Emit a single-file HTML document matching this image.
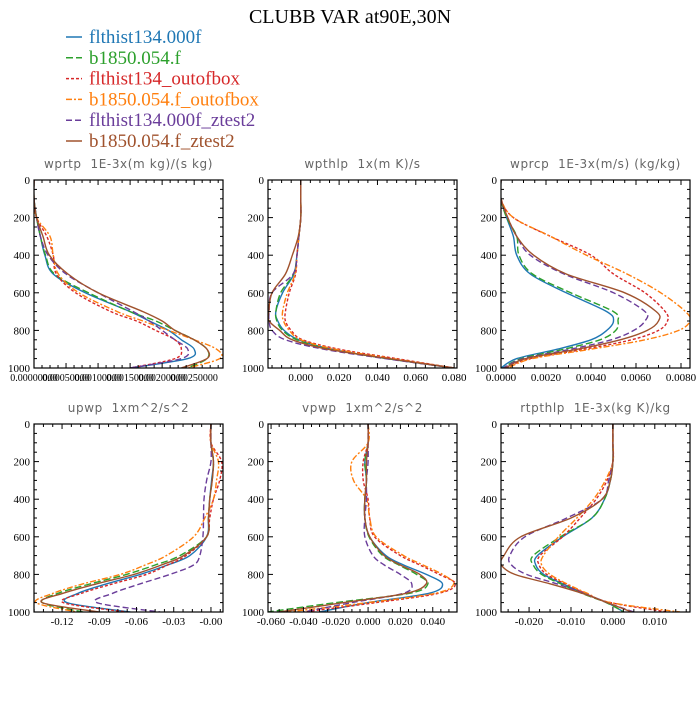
<!DOCTYPE html>
<html><head><meta charset="utf-8">
<style>
body{margin:0;background:#fff;width:700px;height:700px;overflow:hidden}
svg text{font-family:"Liberation Serif",serif}
</style></head>
<body>
<svg id="chart" width="700" height="700" xmlns="http://www.w3.org/2000/svg">
<text x="350" y="23" text-anchor="middle" font-size="20" fill="#000">CLUBB VAR at90E,30N</text>
<g id="legend"></g>
<g id="panels"></g>
</svg>
<script>
const seriesNames=["flthist134.000f","b1850.054.f","flthist134_outofbox","b1850.054.f_outofbox","flthist134.000f_ztest2","b1850.054.f_ztest2"];
const seriesColors=["#1f77b4","#2ca02c","#d62728","#ff7f0e","#6a3d9a","#a0522d"];
const seriesDash=["","7,3","3,2","6,2,2,2","6,3",""];
const levels=[0,100,200,300,400,500,600,700,750,800,850,900,950,1000];

// wprtp
const wprtpBlue=[0,0,0.00004,0.0001,0.00017,0.0003,0.0008,0.0015,0.0018,0.0021,0.0023,0.0025,0.0024,0.0015];
const wprtpGreen=[0,0,0.00004,0.0001,0.00018,0.00032,0.00085,0.0015,0.0019,0.0022,0.0025,0.0027,0.0027,0.0024];
const wprtpRed=[0,0,0.00004,0.0002,0.0003,0.00035,0.00065,0.0012,0.0016,0.0019,0.0022,0.0023,0.0022,0.0015];
const wprtpOrange=[0,0,0.00004,0.00025,0.0003,0.00038,0.0007,0.0013,0.0017,0.0021,0.0025,0.00285,0.0029,0.0024];
const wprtpPurple=[0,0,0.00004,0.0001,0.00022,0.0005,0.001,0.00155,0.0018,0.002,0.0022,0.0024,0.0023,0.0015];
const wprtpBrown=[0,0,0.00004,0.00014,0.00024,0.00053,0.001,0.0017,0.002,0.0022,0.0025,0.0027,0.0027,0.0023];
// wpthlp
const wpthlpBlue=[0,0,0,-0.001,-0.002,-0.0036,-0.0095,-0.013,-0.012,-0.0087,-0.001,0.016,0.045,0.080];
const wpthlpGreen=[0,0,0,-0.001,-0.002,-0.0038,-0.0105,-0.013,-0.0125,-0.0095,-0.002,0.015,0.045,0.080];
const wpthlpRed=[0,0,0,-0.001,-0.002,-0.0027,-0.006,-0.008,-0.008,-0.005,0.001,0.02,0.05,0.080];
const wpthlpOrange=[0,0,0,-0.001,-0.002,-0.003,-0.007,-0.0095,-0.009,-0.006,0,0.018,0.048,0.080];
const wpthlpPurple=[0,0,0,-0.001,-0.002,-0.004,-0.015,-0.0165,-0.0165,-0.015,-0.008,0.012,0.044,0.080];
const wpthlpBrown=[0,0,0,-0.0013,-0.0044,-0.008,-0.015,-0.0167,-0.0165,-0.011,-0.0044,0.014,0.046,0.080];
// wprcp
const wprcpBlue=[0,0,0.00025,0.00055,0.0007,0.0013,0.0029,0.0047,0.005,0.0047,0.004,0.0025,0.0007,0];
const wprcpGreen=[0,0,0.00025,0.0007,0.0008,0.0014,0.0031,0.005,0.0052,0.0051,0.0044,0.0028,0.0009,0.0001];
const wprcpRed=[0,0,0.00055,0.0022,0.004,0.005,0.0064,0.0073,0.0074,0.007,0.0058,0.0037,0.0013,0.0002];
const wprcpOrange=[0,0,0.00055,0.0022,0.0038,0.0056,0.0071,0.0082,0.0084,0.0079,0.0064,0.004,0.0014,0.0003];
const wprcpPurple=[0,0,0.0003,0.0007,0.0013,0.0028,0.005,0.0064,0.0064,0.0059,0.0049,0.0031,0.001,0.0001];
const wprcpBrown=[0,0,0.0003,0.0007,0.00145,0.0029,0.0055,0.0069,0.007,0.0065,0.0053,0.0034,0.0011,0.0002];
// upwp
const upwpBlue=[0,0,0.002,0.0005,-0.001,-0.002,-0.0035,-0.017,-0.035,-0.057,-0.084,-0.107,-0.116,-0.065];
const upwpGreen=[0,0,0.002,0.001,-0.001,-0.002,-0.0035,-0.025,-0.045,-0.068,-0.097,-0.123,-0.136,-0.103];
const upwpRed=[0,0,0.0086,0.007,0.002,-0.001,-0.0035,-0.02,-0.035,-0.052,-0.079,-0.104,-0.119,-0.068];
const upwpOrange=[0,0,0.006,0.0045,0.002,-0.005,-0.014,-0.036,-0.053,-0.073,-0.103,-0.127,-0.141,-0.108];
const upwpPurple=[0,0,0,-0.0035,-0.0056,-0.006,-0.0065,-0.009,-0.014,-0.033,-0.057,-0.079,-0.092,-0.041];
const upwpBrown=[0,0,0.002,0.001,-0.001,-0.002,-0.0035,-0.022,-0.04,-0.062,-0.092,-0.119,-0.136,-0.09];
// vpwp
const vpwpBlue=[0,0,-0.002,-0.001,-0.002,-0.002,0.001,0.011,0.022,0.036,0.046,0.038,0,-0.03];
const vpwpGreen=[0,0,-0.002,-0.001,-0.002,-0.002,0.0006,0.009,0.019,0.03,0.037,0.026,-0.02,-0.062];
const vpwpRed=[0,0,-0.003,-0.003,0,0.001,0.004,0.02,0.032,0.044,0.054,0.044,0.005,-0.04];
const vpwpOrange=[0,0,-0.01,-0.009,-0.001,0.001,0.005,0.022,0.034,0.046,0.053,0.042,0,-0.05];
const vpwpPurple=[0,0,0,-0.001,-0.001,-0.002,-0.002,0.003,0.01,0.02,0.027,0.022,-0.01,-0.04];
const vpwpBrown=[0,0,-0.001,-0.001,-0.002,-0.002,0.001,0.01,0.02,0.032,0.036,0.024,-0.015,-0.055];
// rtpthlp
const rtpBlue=[0,0,0,-0.0006,-0.002,-0.005,-0.012,-0.018,-0.0184,-0.0165,-0.012,-0.007,-0.0014,0.0026];
const rtpGreen=[0,0,0,-0.0006,-0.002,-0.005,-0.0125,-0.019,-0.019,-0.017,-0.0125,-0.0075,-0.0016,0.0026];
const rtpRed=[0,0,0,-0.0014,-0.004,-0.0078,-0.012,-0.0174,-0.0176,-0.0158,-0.0114,-0.0066,-0.0006,0.013];
const rtpOrange=[0,0,0,-0.0018,-0.0046,-0.0086,-0.013,-0.0166,-0.017,-0.015,-0.011,-0.0062,-0.0006,0.016];
const rtpPurple=[0,0,0,-0.001,-0.0026,-0.011,-0.021,-0.0246,-0.0242,-0.0206,-0.0134,-0.007,-0.0014,0.005];
const rtpBrown=[0,0,0,-0.0006,-0.0026,-0.010,-0.022,-0.026,-0.0266,-0.0234,-0.015,-0.0074,-0.0014,0.0045];

const titles=["wprtp  1E-3x(m kg)/(s kg)","wpthlp  1x(m K)/s","wprcp  1E-3x(m/s) (kg/kg)","upwp  1xm^2/s^2","vpwp  1xm^2/s^2","rtpthlp  1E-3x(kg K)/kg"];
const p1Ticks=[0,0.0005,0.001,0.0015,0.002,0.0025];
const p1Labels=["0.00000000","0.00050000","0.00100000","0.00150000","0.00200000","0.00250000"];
const p2Ticks=[0,0.02,0.04,0.06,0.08];
const p2Labels=["0.000","0.020","0.040","0.060","0.080"];
const p3Ticks=[0,0.002,0.004,0.006,0.008];
const p3Labels=["0.0000","0.0020","0.0040","0.0060","0.0080"];
const p4Ticks=[-0.12,-0.09,-0.06,-0.03,0];
const p4Labels=["-0.12","-0.09","-0.06","-0.03","-0.00"];
const p5Ticks=[-0.06,-0.04,-0.02,0,0.02,0.04];
const p5Labels=["-0.060","-0.040","-0.020","0.000","0.020","0.040"];
const p6Ticks=[-0.02,-0.01,0,0.01];
const p6Labels=["-0.020","-0.010","0.000","0.010"];
const yTicks=[0,200,400,600,800,1000];

const panels=[
 {name:"wprtp",x0:34,y0:180,xmin:0,xmax:0.00295,ticks:p1Ticks,labels:p1Labels,fs:10,data:[wprtpBlue,wprtpGreen,wprtpRed,wprtpOrange,wprtpPurple,wprtpBrown]},
 {name:"wpthlp",x0:268,y0:180,xmin:-0.0171,xmax:0.0815,ticks:p2Ticks,labels:p2Labels,fs:11,data:[wpthlpBlue,wpthlpGreen,wpthlpRed,wpthlpOrange,wpthlpPurple,wpthlpBrown]},
 {name:"wprcp",x0:501,y0:180,xmin:0,xmax:0.0084,ticks:p3Ticks,labels:p3Labels,fs:11,data:[wprcpBlue,wprcpGreen,wprcpRed,wprcpOrange,wprcpPurple,wprcpBrown]},
 {name:"upwp",x0:34,y0:424,xmin:-0.1426,xmax:0.0097,ticks:p4Ticks,labels:p4Labels,fs:11,data:[upwpBlue,upwpGreen,upwpRed,upwpOrange,upwpPurple,upwpBrown]},
 {name:"vpwp",x0:268,y0:424,xmin:-0.0619,xmax:0.055,ticks:p5Ticks,labels:p5Labels,fs:11,data:[vpwpBlue,vpwpGreen,vpwpRed,vpwpOrange,vpwpPurple,vpwpBrown]},
 {name:"rtpthlp",x0:501,y0:424,xmin:-0.0267,xmax:0.0184,ticks:p6Ticks,labels:p6Labels,fs:11,data:[rtpBlue,rtpGreen,rtpRed,rtpOrange,rtpPurple,rtpBrown]}
];
const W=189,H=188;
const NS="http://www.w3.org/2000/svg";
function mk(tag,attrs,parent){const e=document.createElementNS(NS,tag);for(const k in attrs)e.setAttribute(k,attrs[k]);if(parent)parent.appendChild(e);return e;}

// legend
const lg=document.getElementById('legend');
seriesNames.forEach((n,i)=>{
  const y=43+i*20.8;
  const g=mk('g',{},lg);
  
  
  const l=mk('line',{x1:66,x2:82,y1:y-6,y2:y-6,stroke:seriesColors[i],'stroke-width':1.5,'stroke-dasharray':seriesDash[i]},g);
  
  
  const t=mk('text',{x:89,y:y,'font-size':19,fill:seriesColors[i]},g);
  
  
  t.textContent=n;
});

function smooth(pts){
  let d="M"+pts[0][0].toFixed(2)+","+pts[0][1].toFixed(2);
  for(let i=0;i<pts.length-1;i++){
    const p0=pts[Math.max(0,i-1)],p1=pts[i],p2=pts[i+1],p3=pts[Math.min(pts.length-1,i+2)];
    const c1=[p1[0]+(p2[0]-p0[0])/6,p1[1]+(p2[1]-p0[1])/6];
    const c2=[p2[0]-(p3[0]-p1[0])/6,p2[1]-(p3[1]-p1[1])/6];
    d+=" C"+c1[0].toFixed(2)+","+c1[1].toFixed(2)+" "+c2[0].toFixed(2)+","+c2[1].toFixed(2)+" "+p2[0].toFixed(2)+","+p2[1].toFixed(2);
  }
  return d;
}

const root=document.getElementById('panels');
panels.forEach((p,pi)=>{
  const g=mk('g',{},root);
  
  
  const xs=v=>p.x0+(v-p.xmin)/(p.xmax-p.xmin)*W;
  const ys=v=>p.y0+v/1000*H;
  const t=mk('text',{x:p.x0+W/2,y:p.y0-12,'text-anchor':'middle','font-size':12,fill:'#666',style:'font-family:"DejaVu Sans","Liberation Sans",sans-serif;white-space:pre;letter-spacing:0.6px'},g);
  
  
  t.textContent=titles[pi];
  const cp=mk('clipPath',{id:'cp'+pi},g);
  mk('rect',{x:p.x0,y:p.y0,width:W,height:H},cp);
  const sg=mk('g',{'clip-path':'url(#cp'+pi+')'},g);
  p.data.forEach((arr,si)=>{
    const pts=arr.map((v,k)=>[xs(v),ys(levels[k])]);
    const path=mk('path',{d:smooth(pts),fill:'none',stroke:seriesColors[si],'stroke-width':1.4,'stroke-dasharray':seriesDash[si]},sg);
    
    
  });
  const fr=mk('rect',{x:p.x0,y:p.y0,width:W,height:H,fill:'none',stroke:'#000','stroke-width':1.2},g);
  
  
  for(let v=0;v<=1000;v+=50){
    const major=v%200===0;const L=major?5:3;const y=ys(v);
    mk('line',{x1:p.x0,x2:p.x0+L,y1:y,y2:y,stroke:'#000'},g);
    mk('line',{x1:p.x0+W,x2:p.x0+W-L,y1:y,y2:y,stroke:'#000'},g);
  }
  yTicks.forEach(v=>{
    const tl=mk('text',{x:p.x0-4,y:ys(v)+4,'text-anchor':'end','font-size':11},g);
    
    
    tl.textContent=v;
  });
  const step=p.ticks[1]-p.ticks[0];
  const minor=step/4;
  for(let v=Math.ceil(p.xmin/minor)*minor;v<=p.xmax+1e-12;v+=minor){
    const x=xs(v);if(x<p.x0-0.1||x>p.x0+W+0.1)continue;
    const isMaj=p.ticks.some(tt=>Math.abs(tt-v)<minor*0.01);
    const L=isMaj?5:3;
    mk('line',{x1:x,x2:x,y1:p.y0,y2:p.y0+L,stroke:'#000'},g);
    mk('line',{x1:x,x2:x,y1:p.y0+H,y2:p.y0+H-L,stroke:'#000'},g);
  }
  p.ticks.forEach((v,k)=>{
    const tl=mk('text',{x:xs(v),y:p.y0+H+13,'text-anchor':'middle','font-size':p.fs},g);
    
    
    tl.textContent=p.labels[k];
  });
});
</script>
</body></html>
